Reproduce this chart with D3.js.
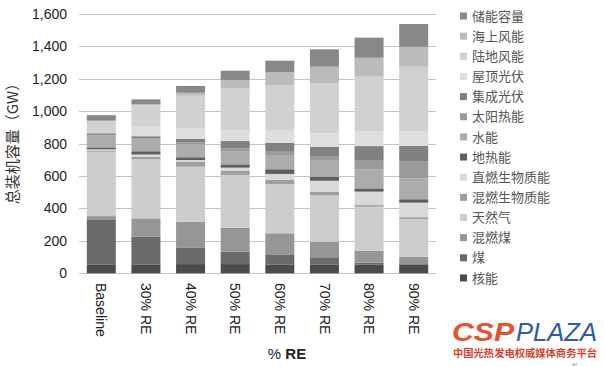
<!DOCTYPE html>
<html><head><meta charset="utf-8">
<script src="https://cdn.jsdelivr.net/npm/d3@7/dist/d3.min.js"></script>
<style>
body{margin:0;background:#fff;}
svg{display:block;}
</style></head>
<body>
<svg id="chart" width="604" height="367"></svg>
<script>
const categories = ["Baseline","30% RE","40% RE","50% RE","60% RE","70% RE","80% RE","90% RE"];
// stacking order bottom -> top
const seriesNames = ["核能","煤","混燃煤","天然气","混燃生物质能","直燃生物质能","地热能","水能","太阳热能","集成光伏","屋顶光伏","陆地风能","海上风能","储能容量"];
const nuclear      = [55, 55, 57, 57, 55, 55, 55, 55];
const coal         = [274,171,103, 76, 62, 44, 10,  2];
const cofiredCoal  = [24, 113,158,148,130, 96, 73, 45];
const naturalGas   = [397,366,340,326,304,286,273,233];
const cofiredBio   = [8,  14, 29, 26, 25, 21, 10, 11];
const directBio    = [7,  14, 12, 19, 37, 69, 83, 90];
const geothermal   = [12, 20, 17, 20, 29, 25, 20, 21];
const hydro        = [72, 75, 80, 82, 88,103,118,129];
const solarThermal = [5,   4, 10, 17, 20, 25, 57,103];
const utilityPV    = [10, 14, 23, 45, 56, 57, 86, 98];
const rooftopPV    = [0,  62, 66, 68, 74, 83, 89, 87];
const onshoreWind  = [78,134,201,257,282,308,339,401];
const offshoreWind = [0,   0, 18, 52, 78,103,117,123];
const storage      = [34, 31, 42, 57, 72,107,124,140];
const yTicks = [0,200,400,600,800,1000,1200,1400,1600];
const yTickLabels = ["0","200","400","600","800","1,000","1,200","1,400","1,600"];

const seriesValues = [nuclear,coal,cofiredCoal,naturalGas,cofiredBio,directBio,geothermal,hydro,solarThermal,utilityPV,rooftopPV,onshoreWind,offshoreWind,storage];
const colors = ["#4b4b4b","#6a6a6a","#969696","#cdcdcd","#9e9e9e","#d9d9d9","#5e5e5e","#acacac","#9a9a9a","#818181","#dedede","#d1d1d1","#bbbbbb","#888888"];

const rows = categories.map((c,i)=>{
  const r = {cat:c};
  seriesNames.forEach((s,j)=>{ r[s] = seriesValues[j][i]; });
  return r;
});

const svg = d3.select("#chart");
const latin = "'Liberation Sans', Arial, sans-serif";
const cjk = "'Noto Sans CJK SC', 'Liberation Sans', sans-serif";

const x = d3.scaleBand().domain(categories).range([79,436]).paddingInner(0.35).paddingOuter(0.175);
const y = d3.scaleLinear().domain([0,1600]).range([273.3,14]);

// gridlines
svg.append("g").selectAll("line").data(yTicks).join("line")
  .attr("x1",79).attr("x2",436)
  .attr("y1",d=>Math.round(y(d))+0.5).attr("y2",d=>Math.round(y(d))+0.5)
  .attr("stroke","#c4c4c4").attr("stroke-width",1);

// y axis labels
const yAxis = d3.axisLeft(y).tickValues(yTicks).tickSize(0).tickPadding(0)
  .tickFormat((d,i)=>yTickLabels[i]);
const gy = svg.append("g").attr("transform","translate(67,0)").call(yAxis);
gy.select(".domain").remove();
gy.selectAll("text").attr("font-family",latin).attr("font-size",14).attr("fill","#222");

// stacks
const stack = d3.stack().keys(seriesNames);
const stacked = stack(rows);
svg.append("g").selectAll("g").data(stacked).join("g")
  .attr("fill",(d,i)=>colors[i])
  .selectAll("rect").data(d=>d).join("rect")
  .attr("x",d=>x(d.data.cat))
  .attr("width",x.bandwidth())
  .attr("y",d=>y(d[1]))
  .attr("height",d=>Math.max(0,y(d[0])-y(d[1])));

// x axis labels (rotated)
const xAxis = d3.axisBottom(x).tickSize(0).tickPadding(0);
const gx = svg.append("g").attr("transform","translate(0,283)").call(xAxis);
gx.select(".domain").remove();
gx.selectAll("text")
  .attr("font-family",latin).attr("font-size",14).attr("fill","#222")
  .attr("transform","rotate(90)")
  .attr("text-anchor","start").attr("dy","0.35em").attr("x",0).attr("y",0);

// y title
svg.append("text")
  .attr("transform","translate(18,140) rotate(-90)")
  .attr("text-anchor","middle")
  .attr("font-family",cjk).attr("font-size",15).attr("fill","#333")
  .text("总装机容量（GW）");

// x title
const xt = svg.append("text").attr("x",287).attr("y",359).attr("text-anchor","middle")
  .attr("font-family",latin).attr("font-size",15).attr("fill","#222");
xt.append("tspan").text("% ");
xt.append("tspan").attr("font-weight","bold").text("RE");

// legend (top -> bottom reversed order)
const legendItems = seriesNames.slice().reverse();
const legendColors = colors.slice().reverse();
const lg = svg.append("g");
legendItems.forEach((name,i)=>{
  const cy = 16 + i*20.15;
  lg.append("rect").attr("x",460).attr("y",cy-3.5).attr("width",7).attr("height",7).attr("fill",legendColors[i]);
  lg.append("text").attr("x",472).attr("y",cy).attr("dy","0.36em")
    .attr("font-family",cjk).attr("font-size",13).attr("fill","#555").text(name);
});

// watermark
const wm = svg.append("g");
wm.append("text").attr("x",452).attr("y",341)
  .attr("font-family",latin).attr("font-size",26).attr("font-weight","bold").attr("font-style","italic")
  .attr("fill","#e6532c").attr("textLength",62).attr("lengthAdjust","spacingAndGlyphs").text("CSP");
wm.append("text").attr("x",516).attr("y",341)
  .attr("font-family",latin).attr("font-size",26).attr("font-style","italic")
  .attr("fill","#2e5ca8").attr("textLength",81).attr("lengthAdjust","spacingAndGlyphs").text("PLAZA");
wm.append("text").attr("x",453).attr("y",357)
  .attr("font-family",cjk).attr("font-size",10).attr("font-weight","bold")
  .attr("fill","#d8402c").attr("textLength",144).attr("lengthAdjust","spacingAndGlyphs").text("中国光热发电权威媒体商务平台");
wm.append("text").attr("x",572).attr("y",367)
  .attr("font-family",latin).attr("font-size",7).attr("fill","#888").text("↵");
</script>
</body></html>
